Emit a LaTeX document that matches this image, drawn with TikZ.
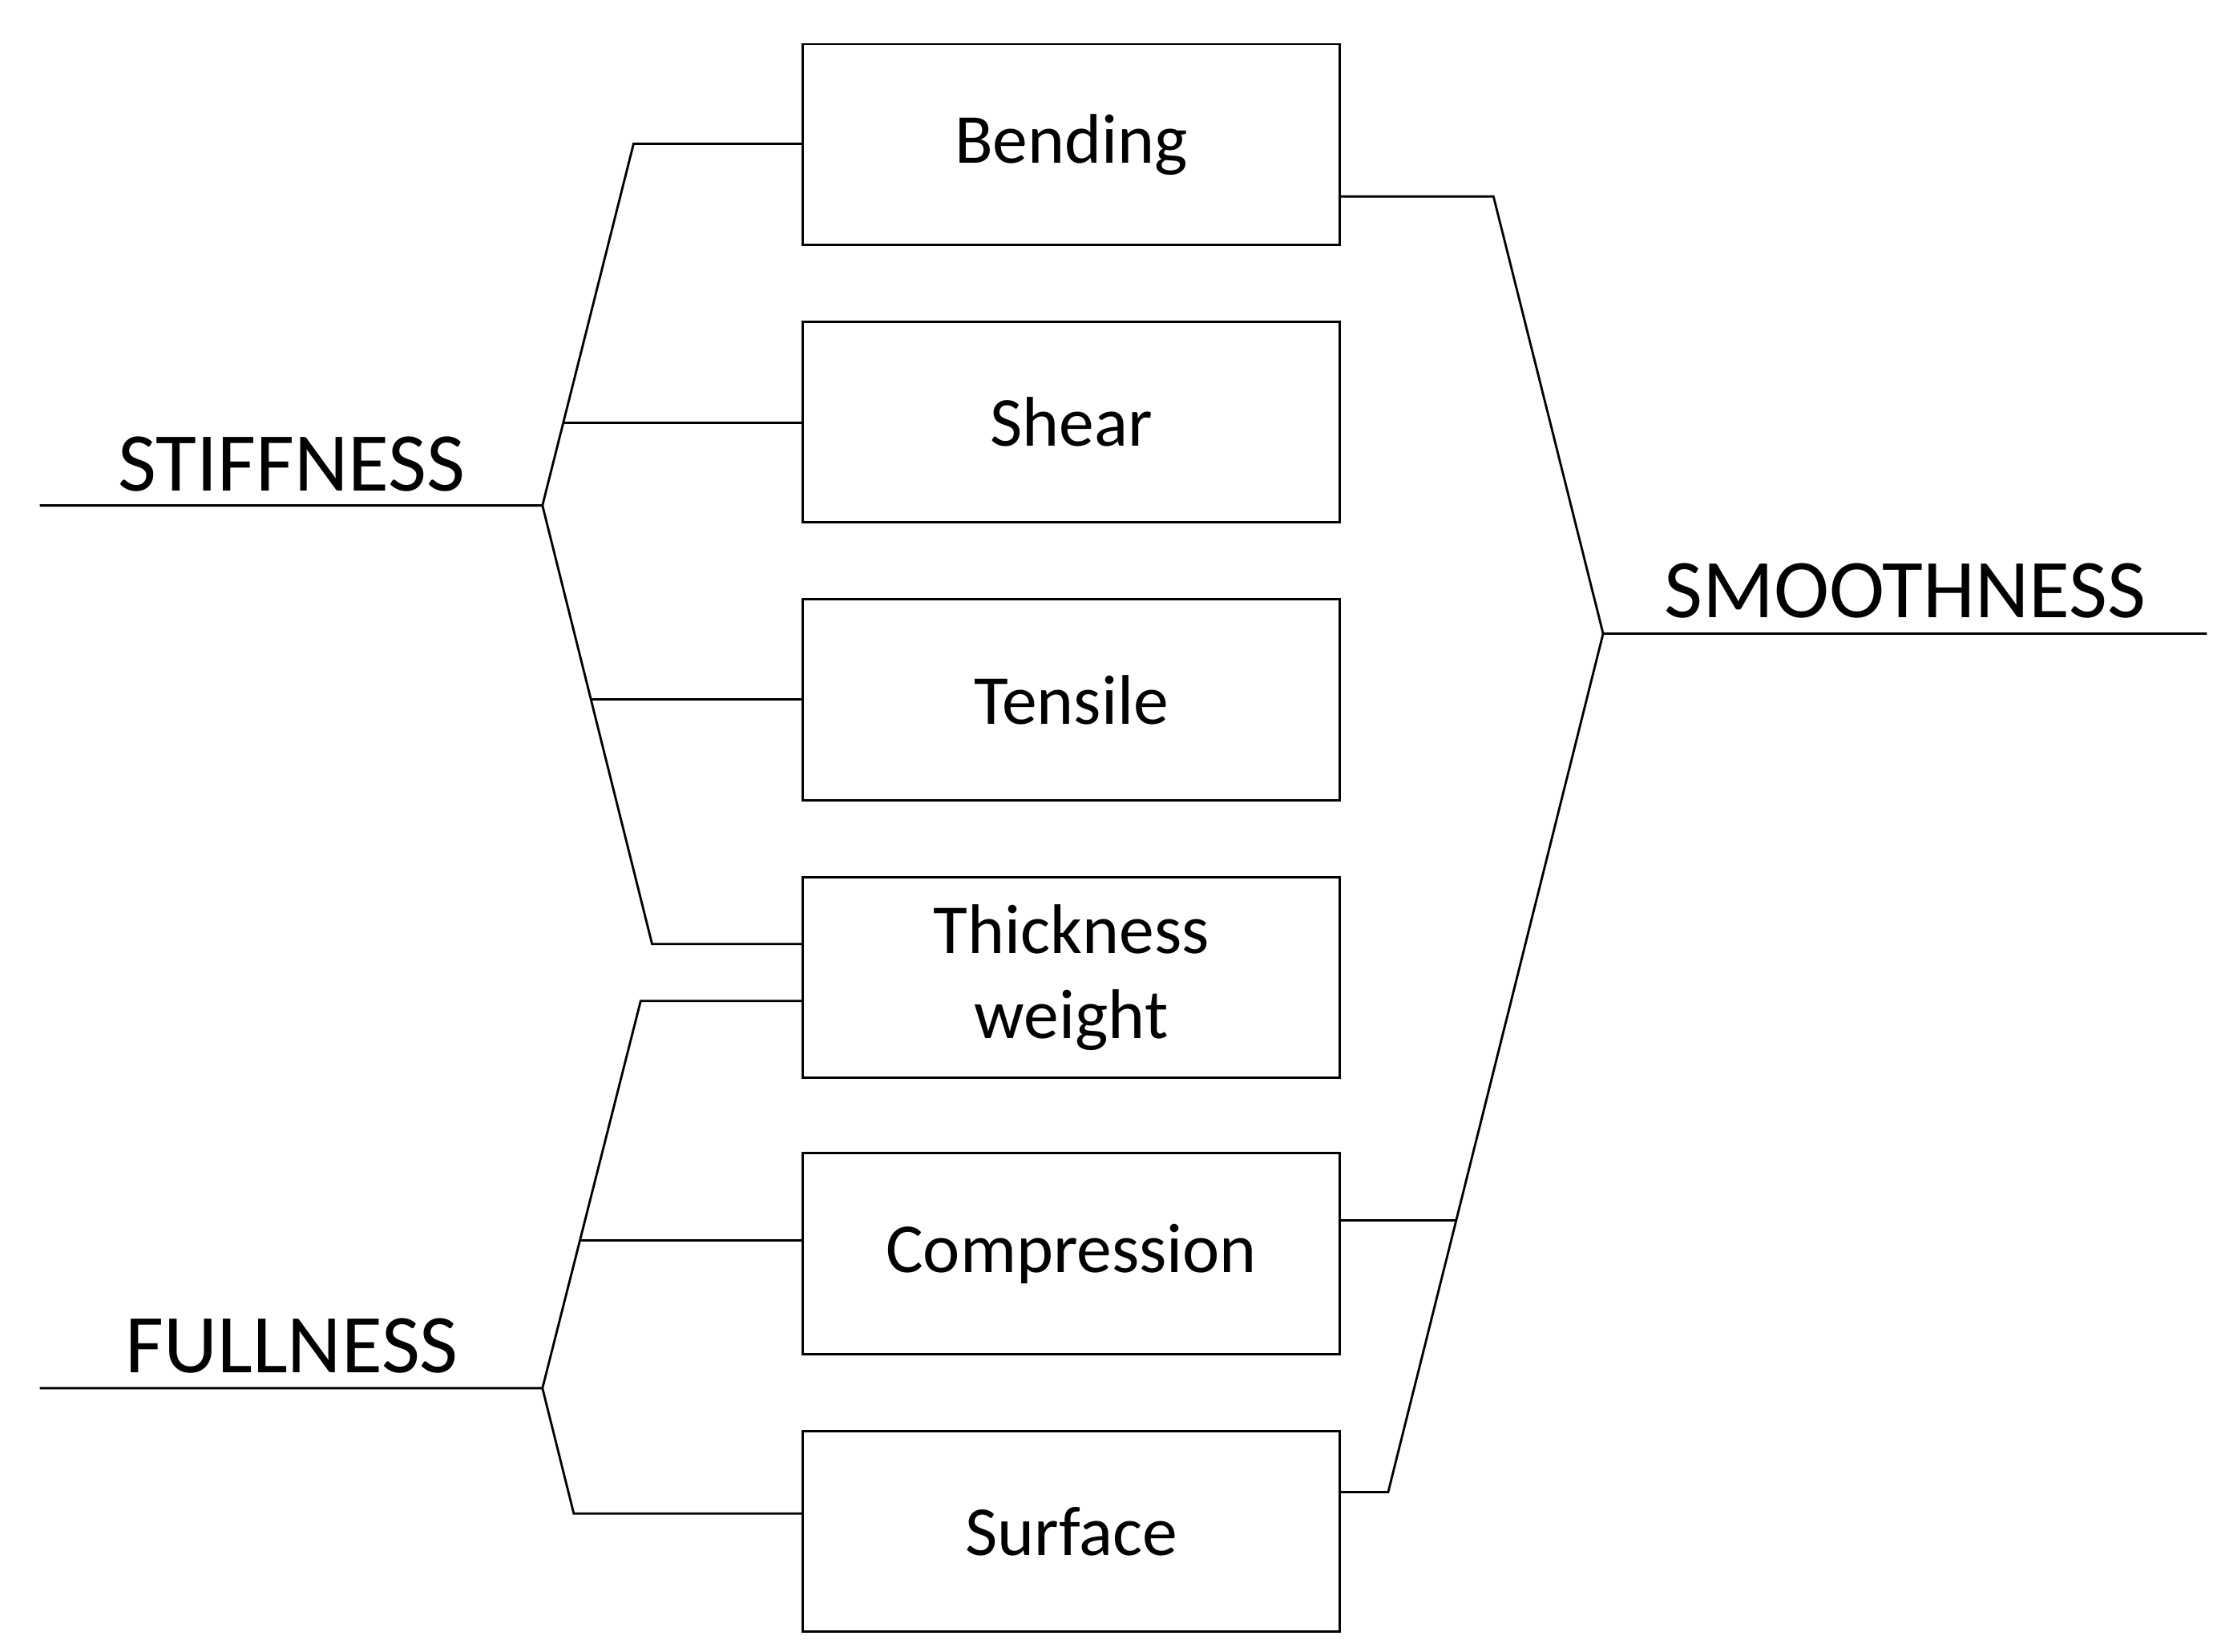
\documentclass[tikz,border=0pt]{standalone}
\usepackage{fontspec}
\setmainfont{Carlito}
\usetikzlibrary{calc}
\begin{document}
\begin{tikzpicture}[x=0.75pt,y=-0.75pt,line width=1.2pt,
  box/.style={draw,minimum width=377*0.75pt,minimum height=141*0.75pt,inner sep=0pt,font=\fontsize{37}{45}\selectfont,align=center},
  lab/.style={font=\fontsize{44}{50}\selectfont,inner sep=0pt}]
\useasboundingbox (0,0) rectangle (1560,1160);
\node[box] (b1) at (752.5,101.5) {Bending};
\node[box] (b2) at (752.5,296.5) {Shear};
\node[box] (b3) at (752.5,491.5) {Tensile};
\node[box] (b4) at (752.5,686.5) {Thickness\\weight};
\node[box] (b5) at (752.5,880.5) {Compression};
\node[box] (b6) at (752.5,1075.5) {Surface};
\node[lab] (st) at (205,326) {STIFFNESS};
\node[lab] (fu) at (205,945) {FULLNESS};
\node[lab] (sm) at (1338,415) {SMOOTHNESS};
% stiffness
\coordinate (s0) at (28,355); \coordinate (s1) at (381,355);
\coordinate (s2) at (445,101); \coordinate (s3) at (458,663);
\coordinate (s4) at ($(s1)!{58/254}!(s2)$);
\coordinate (s5) at ($(s1)!{136/308}!(s3)$);
\draw (s0) -- (s1) -- (s2) -- (b1.west|-s2);
\draw (s1) -- (s3) -- (b4.west|-s3);
\draw (s4) -- (b2.west|-s4);
\draw (s5) -- (b3.west|-s5);
% fullness
\coordinate (f0) at (28,975); \coordinate (f1) at (381,975);
\coordinate (f2) at (450,703); \coordinate (f3) at (403,1063);
\coordinate (f4) at ($(f1)!{104/272}!(f2)$);
\draw (f0) -- (f1) -- (f2) -- (b4.west|-f2);
\draw (f1) -- (f3) -- (b6.west|-f3);
\draw (f4) -- (b5.west|-f4);
% smoothness
\coordinate (m0) at (1550,445); \coordinate (m1) at (1126,445);
\coordinate (m2) at (1049,138); \coordinate (m3) at (975,1048);
\coordinate (m4) at ($(m1)!{412/603}!(m3)$);
\draw (m0) -- (m1) -- (m2) -- (b1.east|-m2);
\draw (m1) -- (m3) -- (b6.east|-m3);
\draw (m4) -- (b5.east|-m4);
\end{tikzpicture}
\end{document}
